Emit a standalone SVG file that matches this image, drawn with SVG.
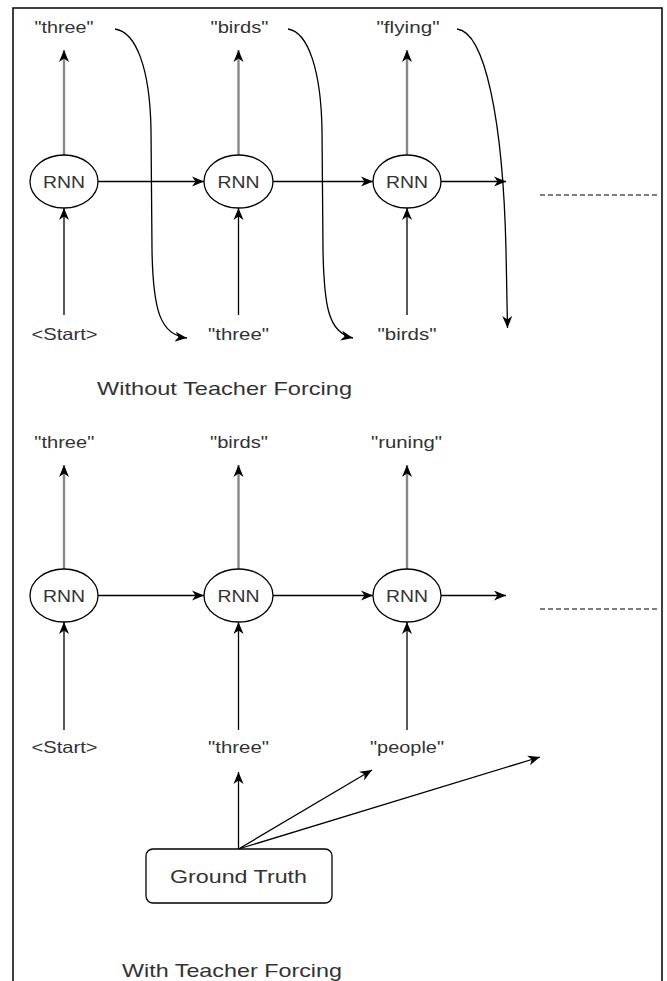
<svg xmlns="http://www.w3.org/2000/svg" width="667" height="981" viewBox="0 0 667 981">
  <style>
    .lbl { font-family: "Liberation Sans", Arial, sans-serif; font-size: 16.5px; fill: #333; text-anchor: middle; }
    .cap { font-family: "Liberation Sans", Arial, sans-serif; font-size: 18.5px; fill: #333; }
    .rnn { fill: #fff; stroke: #000; stroke-width: 1.3; }
    .edge { fill: none; stroke: #000; stroke-width: 1.3; }
    .out { fill: none; stroke: #888; stroke-width: 2.4; }
    .dash { fill: none; stroke: #000; stroke-width: 1.2; stroke-dasharray: 5 3; }
    .arr { marker-end: url(#head); }
  </style>
  <defs>
    <marker id="head" markerUnits="userSpaceOnUse" markerWidth="12" markerHeight="11" viewBox="0 0 12 11" refX="12" refY="5.5" orient="auto">
      <path d="M0,0.5 L12,5.5 L0,10.5 L3.5,5.5 Z" fill="#000"/>
    </marker>
  </defs>
  <rect width="667" height="981" fill="#fff"/>

  <!-- frame (open at the bottom) -->
  <path d="M13,981 V8 H662 V981" fill="none" stroke="#000" stroke-width="1.5"/>

  <!-- connectors -->
  <g id="connectors">
    <!-- upper row: outputs -->
    <line class="out arr" x1="64" y1="155" x2="64" y2="50"/>
    <line class="out arr" x1="238.5" y1="155" x2="238.5" y2="50"/>
    <line class="out arr" x1="407" y1="155" x2="407" y2="50"/>
    <!-- upper row: inputs -->
    <line class="edge arr" x1="64" y1="315" x2="64" y2="208"/>
    <line class="edge arr" x1="238.5" y1="315" x2="238.5" y2="208"/>
    <line class="edge arr" x1="407" y1="315" x2="407" y2="208"/>
    <!-- upper row: hidden state -->
    <line class="edge arr" x1="98" y1="181.5" x2="204" y2="181.5"/>
    <line class="edge arr" x1="273" y1="181.5" x2="373" y2="181.5"/>
    <line class="edge arr" x1="441" y1="181.5" x2="506" y2="181.5"/>
    <!-- upper row: predictions fed back as next inputs -->
    <path class="edge arr" d="M115,29 C136,32 150,68 151,130 L152,250 C153,310 160,335 187,338"/>
    <path class="edge arr" d="M288,29 C308,32 321,70 322,130 L323,250 C324,305 328,333 353,338"/>
    <path class="edge arr" d="M457,29 C485,32 503,120 506,250 L507.5,328"/>
    <line class="dash" x1="540" y1="195" x2="658" y2="195"/>

    <!-- lower row: outputs -->
    <line class="out arr" x1="64" y1="569" x2="64" y2="465"/>
    <line class="out arr" x1="238.5" y1="569" x2="238.5" y2="465"/>
    <line class="out arr" x1="407" y1="569" x2="407" y2="465"/>
    <!-- lower row: inputs -->
    <line class="edge arr" x1="64" y1="730" x2="64" y2="622"/>
    <line class="edge arr" x1="238.5" y1="730" x2="238.5" y2="622"/>
    <line class="edge arr" x1="407" y1="730" x2="407" y2="622"/>
    <!-- lower row: hidden state -->
    <line class="edge arr" x1="98" y1="595.5" x2="204" y2="595.5"/>
    <line class="edge arr" x1="273" y1="595.5" x2="373" y2="595.5"/>
    <line class="edge arr" x1="441" y1="595.5" x2="506" y2="595.5"/>
    <line class="dash" x1="540" y1="609" x2="658" y2="609"/>

    <!-- ground truth feeds -->
    <line class="edge arr" x1="238.5" y1="849" x2="238.5" y2="772"/>
    <line class="edge arr" x1="238.5" y1="849" x2="372" y2="770"/>
    <line class="edge arr" x1="238.5" y1="849" x2="540" y2="757"/>
  </g>

  <!-- upper row nodes -->
  <g id="rnn-a1"><ellipse class="rnn" cx="64" cy="181.5" rx="34" ry="26.5"/><text class="lbl" x="64" y="187.5" textLength="42" lengthAdjust="spacingAndGlyphs">RNN</text></g>
  <g id="rnn-a2"><ellipse class="rnn" cx="238.5" cy="181.5" rx="34.5" ry="26.5"/><text class="lbl" x="238.5" y="187.5" textLength="42" lengthAdjust="spacingAndGlyphs">RNN</text></g>
  <g id="rnn-a3"><ellipse class="rnn" cx="407" cy="181.5" rx="34" ry="26.5"/><text class="lbl" x="407" y="187.5" textLength="42" lengthAdjust="spacingAndGlyphs">RNN</text></g>

  <g id="out-a1"><text class="lbl" x="64" y="33" textLength="59" lengthAdjust="spacingAndGlyphs">"three"</text></g>
  <g id="out-a2"><text class="lbl" x="239.5" y="33" textLength="58" lengthAdjust="spacingAndGlyphs">"birds"</text></g>
  <g id="out-a3"><text class="lbl" x="408" y="33" textLength="63" lengthAdjust="spacingAndGlyphs">"flying"</text></g>

  <g id="in-a1"><text class="lbl" x="64.5" y="340" textLength="66" lengthAdjust="spacingAndGlyphs">&lt;Start&gt;</text></g>
  <g id="in-a2"><text class="lbl" x="238.5" y="340" textLength="61" lengthAdjust="spacingAndGlyphs">"three"</text></g>
  <g id="in-a3"><text class="lbl" x="407" y="340" textLength="59" lengthAdjust="spacingAndGlyphs">"birds"</text></g>

  <g id="caption-a"><text class="cap" x="97" y="395" textLength="255" lengthAdjust="spacingAndGlyphs">Without Teacher Forcing</text></g>

  <!-- lower row nodes -->
  <g id="rnn-b1"><ellipse class="rnn" cx="64" cy="595.5" rx="34" ry="26.5"/><text class="lbl" x="64" y="601.5" textLength="42" lengthAdjust="spacingAndGlyphs">RNN</text></g>
  <g id="rnn-b2"><ellipse class="rnn" cx="238.5" cy="595.5" rx="34.5" ry="26.5"/><text class="lbl" x="238.5" y="601.5" textLength="42" lengthAdjust="spacingAndGlyphs">RNN</text></g>
  <g id="rnn-b3"><ellipse class="rnn" cx="407" cy="595.5" rx="34" ry="26.5"/><text class="lbl" x="407" y="601.5" textLength="42" lengthAdjust="spacingAndGlyphs">RNN</text></g>

  <g id="out-b1"><text class="lbl" x="64.3" y="448" textLength="60" lengthAdjust="spacingAndGlyphs">"three"</text></g>
  <g id="out-b2"><text class="lbl" x="239" y="448" textLength="58" lengthAdjust="spacingAndGlyphs">"birds"</text></g>
  <g id="out-b3"><text class="lbl" x="406.5" y="448" textLength="71" lengthAdjust="spacingAndGlyphs">"runing"</text></g>

  <g id="in-b1"><text class="lbl" x="64.5" y="753" textLength="66" lengthAdjust="spacingAndGlyphs">&lt;Start&gt;</text></g>
  <g id="in-b2"><text class="lbl" x="238.5" y="753" textLength="61" lengthAdjust="spacingAndGlyphs">"three"</text></g>
  <g id="in-b3"><text class="lbl" x="407" y="753" textLength="74" lengthAdjust="spacingAndGlyphs">"people"</text></g>

  <g id="ground-truth">
    <rect x="146" y="849" width="186" height="54" rx="7" ry="7" fill="#fff" stroke="#000" stroke-width="1.3"/>
    <text class="cap" x="238.5" y="883" text-anchor="middle" textLength="137" lengthAdjust="spacingAndGlyphs">Ground Truth</text>
  </g>

  <g id="caption-b"><text class="cap" x="122" y="977" textLength="220" lengthAdjust="spacingAndGlyphs">With Teacher Forcing</text></g>
</svg>
